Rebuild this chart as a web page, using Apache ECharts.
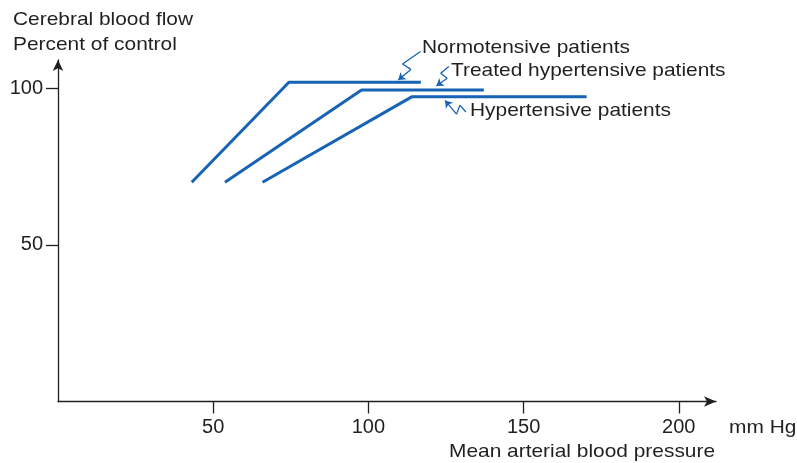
<!DOCTYPE html>
<html>
<head>
<meta charset="utf-8">
<script src="https://cdn.jsdelivr.net/npm/echarts@6/dist/echarts.min.js"></script>
<style>
  html, body { margin: 0; padding: 0; background: #fff; }
  #chart { width: 797px; height: 463px; }
</style>
</head>
<body>
<div id="chart"></div>
<script>
// ---- Data (mean arterial pressure in mm Hg, cerebral blood flow in % of control) ----
const normoPressure = [43.1, 74.4, 116.9];
const normoFlow     = [70, 101.9, 101.9];
const treatedPressure = [53.8, 97.8, 137.2];
const treatedFlow     = [70, 99.4, 99.4];
const hyperPressure = [65.9, 114.1, 170.3];
const hyperFlow     = [70, 97.3, 97.3];

const xTicks = [50, 100, 150, 200];
const yTicks = [50, 100];

// zigzag leader arrows for the labels (data coordinates), last point = arrow tip
const normoLeader   = [[116.8, 111.7], [111.0, 107.7], [113.7, 106.0], [109.6, 102.6]];
const treatedLeader = [[125.9, 106.9], [123.3, 104.8], [125.4, 103.2], [121.9, 100.7]];
const hyperLeader   = [[131.4, 92.4], [129.5, 94.6], [128.4, 91.7], [124.7, 96.1]];

const labels = {
  yTitle1: 'Cerebral blood flow',
  yTitle2: 'Percent of control',
  normo: 'Normotensive patients',
  treated: 'Treated hypertensive patients',
  hyper: 'Hypertensive patients',
  unit: 'mm Hg',
  xTitle: 'Mean arterial blood pressure'
};

// ---- Styling ----
const BLUE = '#1763b5';
const INK = '#231f20';
const FONT = '"Liberation Sans", Arial, Helvetica, sans-serif';

function zip(xs, ys) { return xs.map((x, i) => [x, ys[i]]); }

function curve(xs, ys) {
  return {
    type: 'line', data: zip(xs, ys), showSymbol: false, symbol: 'none',
    clip: false, silent: true, animation: false,
    lineStyle: { color: BLUE, width: 3 }, emphasis: { disabled: true }
  };
}
function leaderBody(pts) {
  return {
    type: 'line', data: pts.slice(0, pts.length - 1), showSymbol: false, symbol: 'none',
    clip: false, silent: true, animation: false,
    lineStyle: { color: BLUE, width: 1.3 }, emphasis: { disabled: true }
  };
}
function leaderHeads(list) {
  return {
    type: 'lines', coordinateSystem: 'cartesian2d', clip: false, silent: true, animation: false,
    symbol: ['none', 'arrow'], symbolSize: 7,
    lineStyle: { color: BLUE, width: 1.3, opacity: 1 },
    data: list.map(pts => ({ coords: [pts[pts.length - 2], pts[pts.length - 1]] }))
  };
}
function txt(text, x, y) {
  return {
    type: 'text', x: x, y: y, scaleX: 1.1, silent: true,
    style: { text: text, x: 0, y: 0, font: '19px ' + FONT, fill: INK, textAlign: 'left', textVerticalAlign: 'middle', verticalAlign: 'middle' }
  };
}

const axisLineStyle = { color: INK, width: 1.3 };

const option = {
  animation: false,
  backgroundColor: '#ffffff',
  grid: { left: 58, right: 81, top: 60, bottom: 61.5, containLabel: false },
  xAxis: {
    type: 'value', min: 0, max: 212, interval: 50,
    axisLine: { show: true, onZero: false, symbol: ['none', 'arrow'], symbolSize: [8, 12], lineStyle: axisLineStyle },
    axisTick: { show: true, inside: false, length: 12, customValues: xTicks, lineStyle: axisLineStyle },
    axisLabel: { customValues: xTicks, fontSize: 20, fontFamily: FONT, color: INK, margin: 16 },
    splitLine: { show: false }
  },
  yAxis: {
    type: 'value', min: 0, max: 109, interval: 50,
    axisLine: { show: true, onZero: false, symbol: ['none', 'arrow'], symbolSize: [8, 11], lineStyle: axisLineStyle },
    axisTick: { show: true, inside: false, length: 12, customValues: yTicks, lineStyle: axisLineStyle },
    axisLabel: { customValues: yTicks, fontSize: 20, fontFamily: FONT, color: INK, margin: 15 },
    splitLine: { show: false }
  },
  series: [
    curve(normoPressure, normoFlow),
    curve(treatedPressure, treatedFlow),
    curve(hyperPressure, hyperFlow),
    leaderBody(normoLeader),
    leaderBody(treatedLeader),
    leaderBody(hyperLeader),
    leaderHeads([normoLeader, treatedLeader, hyperLeader])
  ],
  graphic: [
    txt(labels.yTitle1, 13, 20),
    txt(labels.yTitle2, 13, 45),
    txt(labels.normo, 422, 48),
    txt(labels.treated, 451, 71),
    txt(labels.hyper, 470, 111),
    txt(labels.unit, 729, 428),
    txt(labels.xTitle, 449, 452)
  ]
};

const chart = echarts.init(document.getElementById('chart'), null, { renderer: 'canvas' });
chart.setOption(option);
</script>
</body>
</html>
